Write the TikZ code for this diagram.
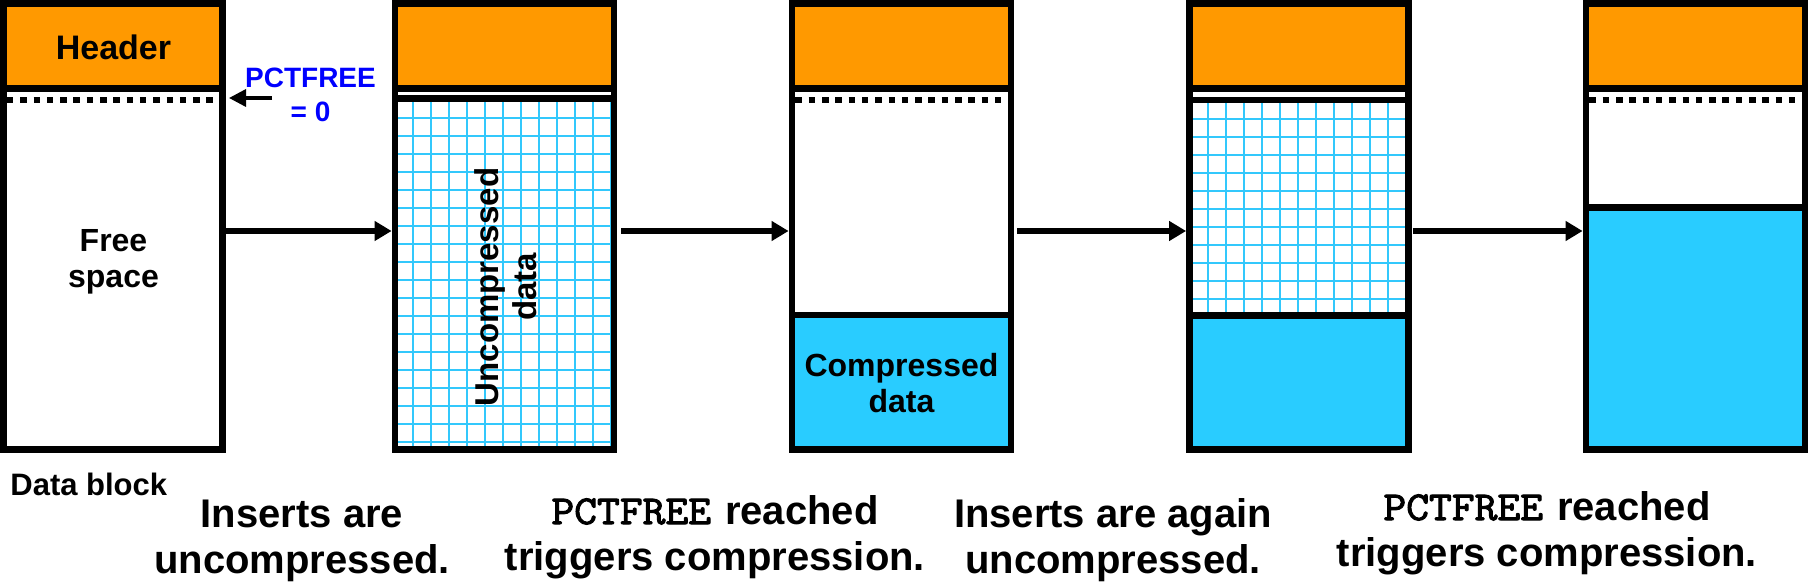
\documentclass[tikz,border=0pt]{standalone}
\usepackage{fontspec}
\setmainfont{Liberation Sans}
\newfontfamily\pctmono{Latin Modern Mono}[FakeBold=2.5, FakeStretch=1.08]
\usetikzlibrary{arrows.meta, positioning}
\definecolor{hdrorange}{RGB}{255, 153, 0}
\definecolor{cmpcyan}{RGB}{41, 204, 255}
\definecolor{meshblue}{RGB}{50, 200, 252}
\definecolor{pctblue}{RGB}{0, 0, 255}

% mesh of uncompressed rows, inner edges: left, top, right, bottom
\newcommand{\meshfill}[4]{%
  \begin{scope}
    \clip (#1,#2) rectangle (#3,#4);
    \foreach \gx in {0,...,11}
      \draw[meshline] (#1+15+18*\gx,#2) -- (#1+15+18*\gx,#4);
    \foreach \gy in {0,...,19}
      \draw[meshline] (#1,#2+16+18*\gy) -- (#3,#2+16+18*\gy);
  \end{scope}}
\newcommand{\pctword}{{\fontsize{20.5}{23}\selectfont\pctmono\mdseries PCTFREE}\hspace{1.5pt}}

\begin{document}
\begin{tikzpicture}[x=0.5pt, y=-0.5pt, font=\bfseries,
    flow/.style={-{Triangle[length=8.5pt, width=9.5pt]}, line width=3pt},
    blockbox/.style={draw, line width=3.4pt, minimum width=109.5pt, minimum height=223pt, inner sep=0pt},
    part/.style={line width=3.4pt},
    dotline/.style={line width=3pt, dash pattern=on 3.25pt off 3.4pt},
    meshline/.style={meshblue, line width=1pt},
    lbl/.style={align=center, inner sep=0pt, font=\fontsize{16}{18}\selectfont\bfseries},
    caption/.style={align=center, anchor=base, inner sep=0pt, font=\fontsize{20}{23}\selectfont\bfseries}]
    \useasboundingbox (0,0) rectangle (1810,588);

    % Headers
    \foreach \bx in {3.5, 395, 792, 1189.5, 1586}
        \filldraw[part, fill=hdrorange] (\bx,3.5) rectangle (\bx+219,88.5);

    % PCTFREE marks
    \foreach \bx in {3.5, 792, 1586}
        \draw[dotline] (\bx+3.4,100) -- (\bx+215.6,100);

    % Block contents
    \meshfill{398}{102}{611}{447}
    \draw[part] (395,98.5) rectangle (614,449.5);
    \filldraw[part, fill=cmpcyan] (792,315) rectangle (1011,449.5);
    \meshfill{1193}{103}{1405}{312}
    \draw[part] (1189.5,100) rectangle (1408.5,315.5);
    \filldraw[part, fill=cmpcyan] (1189.5,315.5) rectangle (1408.5,449.5);
    \filldraw[part, fill=cmpcyan] (1586,207.5) rectangle (1805,449.5);

    % Blocks
    \foreach \bx [count=\i] in {3.5, 395, 792, 1189.5, 1586}
        \node[blockbox] (blk\i) at (\bx+109.5,226.5) {};

    % Labels
    \node[lbl, font=\fontsize{17}{20}\selectfont\bfseries] (hdr) at (113.5,47) {Header};
    \node[lbl] (free) at (113.5,262) {Free\\space};
    \node[lbl, rotate=90, font=\fontsize{16.5}{19}\selectfont\bfseries] (raw) at (506,287) {Uncompressed\\data};
    \node[lbl] (packed) at (901.5,383) {Compressed\\data};
    \node[anchor=base west, inner sep=0pt, font=\fontsize{15.5}{18}\selectfont\bfseries] (dblk) at (10,495) {Data block};
    \node[lbl, pctblue, font=\fontsize{14}{17}\selectfont\bfseries] (pct) at (310.5,95) {PCTFREE\\= 0};
    \coordinate (pcttail) at (272,98);
    \coordinate (pcttip) at (229,98);
    \draw[-{Triangle[length=8.5pt, width=8.5pt]}, line width=1.7pt] (pcttail) -- (pcttip);

    % Captions (anchored on the last line)
    \node[caption] (cap1) at (302,573) {Inserts are\\uncompressed.};
    \node[caption] (cap2) at (715,570) {\pctword{} reached\\triggers compression.};
    \node[caption] (cap3) at (1113,573) {Inserts are again\\uncompressed.};
    \node[caption] (cap4) at (1547,566) {\pctword{} reached\\triggers compression.};

    % Arrows
    \draw[flow] ([yshift=-2.25pt]blk1.east) -- ([yshift=-2.25pt]blk2.west);
    \draw[flow, shorten <=2pt] ([yshift=-2.25pt]blk2.east) -- ([yshift=-2.25pt]blk3.west);
    \draw[flow, shorten <=1.5pt] ([yshift=-2.25pt]blk3.east) -- ([yshift=-2.25pt]blk4.west);
    \draw[flow, shorten <=0.5pt] ([yshift=-2.25pt]blk4.east) -- ([yshift=-2.25pt]blk5.west);
\end{tikzpicture}
\end{document}
